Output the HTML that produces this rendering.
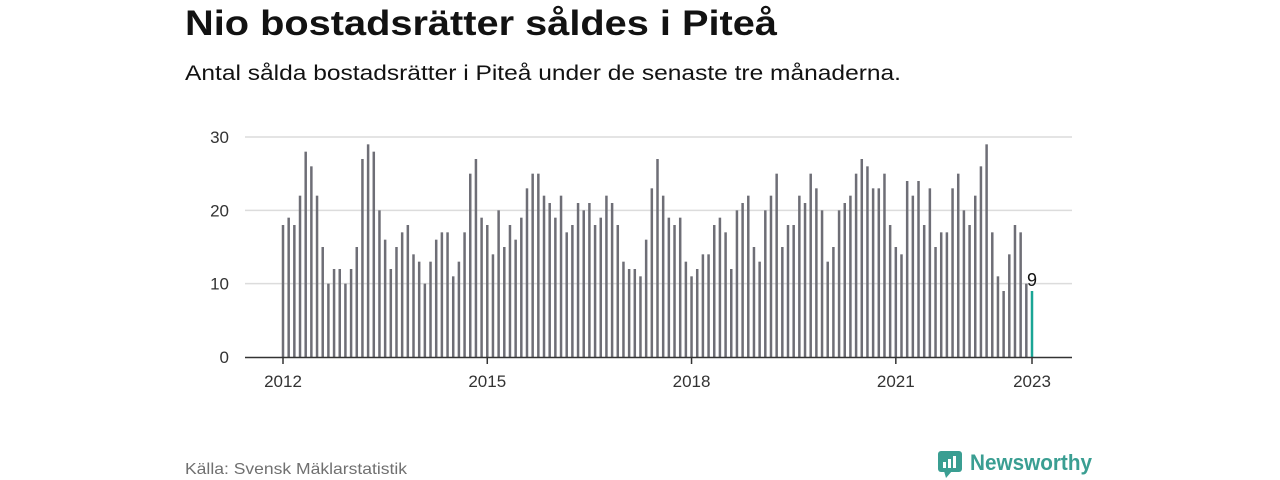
<!DOCTYPE html>
<html><head><meta charset="utf-8"><style>
html,body{margin:0;padding:0;background:#fff;}
svg{display:block;font-family:"Liberation Sans",sans-serif;}
</style></head><body>
<svg id="chart" width="1280" height="480" viewBox="0 0 1280 480">
<text x="185" y="35" font-size="35" font-weight="bold" fill="#121212" textLength="592" lengthAdjust="spacingAndGlyphs">Nio bostadsrätter såldes i Piteå</text>
<text x="185" y="80" font-size="21" fill="#121212" textLength="716" lengthAdjust="spacingAndGlyphs">Antal sålda bostadsrätter i Piteå under de senaste tre månaderna.</text>
<g id="grid"></g>
<g id="bars"></g>
<g id="axis"></g>
<text x="185" y="474" font-size="16" fill="#707070" textLength="222" lengthAdjust="spacingAndGlyphs">Källa: Svensk Mäklarstatistik</text>
<g>
<rect x="938" y="451" width="24" height="21" rx="3" fill="#3a9e92"/>
<polygon points="944,471 952,471 946,478" fill="#3a9e92"/>
<rect x="943" y="462" width="3" height="6" fill="#fff"/>
<rect x="948" y="459" width="3" height="9" fill="#fff"/>
<rect x="953" y="456" width="3" height="12" fill="#fff"/>
<text x="970" y="470" font-size="22" font-weight="bold" fill="#3a9e92" textLength="122" lengthAdjust="spacingAndGlyphs">Newsworthy</text>
</g>
</svg>
<script>
const values = [
18,19,18,22,28,26,22,15,10,12,12,10,
12,15,27,29,28,20,16,12,15,17,18,14,
13,10,13,16,17,17,11,13,17,25,27,19,
18,14,20,15,18,16,19,23,25,25,22,21,
19,22,17,18,21,20,21,18,19,22,21,18,
13,12,12,11,16,23,27,22,19,18,19,13,
11,12,14,14,18,19,17,12,20,21,22,15,
13,20,22,25,15,18,18,22,21,25,23,20,
13,15,20,21,22,25,27,26,23,23,25,18,
15,14,24,22,24,18,23,15,17,17,23,25,
20,18,22,26,29,17,11,9,14,18,17,10,
9];
const yTicks = [0,10,20,30];
const xTickLabels = ["2012","2015","2018","2021","2023"];
const xTickIndex = [0,36,72,108,132];
const lastLabel = "9";

const NS="http://www.w3.org/2000/svg";
const x0=283, step=(1032-283)/132, yBase=357, yScale=220/30;
const xs=i=>x0+i*step, ys=v=>yBase-v*yScale;
function mk(tag,attrs,parent){const e=document.createElementNS(NS,tag);for(const k in attrs)e.setAttribute(k,attrs[k]);parent.appendChild(e);return e;}
const grid=document.getElementById('grid'),bars=document.getElementById('bars'),axis=document.getElementById('axis');
yTicks.forEach(t=>{
  if(t>0){const l=mk('line',{x1:245,x2:1072,y1:ys(t),y2:ys(t),stroke:'#dcdcdc','stroke-width':1.5},grid);
  
  }
  const tx=mk('text',{x:229,y:ys(t)+6,'font-size':17,fill:'#333','text-anchor':'end'},grid);
  tx.textContent=t;
  
  
});
values.forEach((v,i)=>{
  const last=i===values.length-1;
  const r=mk('rect',{x:xs(i)-1.25,y:ys(v),width:2.5,height:v*yScale,fill:last?'#1aa595':'#6e6e76'},bars);
  
  
});
const bl=mk('line',{x1:245,x2:1072,y1:yBase+0.5,y2:yBase+0.5,stroke:'#333','stroke-width':1.5},axis);


xTickIndex.forEach((idx,k)=>{
  const l=mk('line',{x1:xs(idx),x2:xs(idx),y1:yBase,y2:yBase+7,stroke:'#333','stroke-width':1.5},axis);
  
  
  const t=mk('text',{x:xs(idx),y:387,'font-size':17,fill:'#333','text-anchor':'middle'},axis);
  t.textContent=xTickLabels[k];
  
  
});
const li=values.length-1;
const lab=mk('text',{x:xs(li),y:ys(values[li])-5,'font-size':18,fill:'#121212','text-anchor':'middle'},bars);
lab.textContent=lastLabel;


</script>
</body></html>
